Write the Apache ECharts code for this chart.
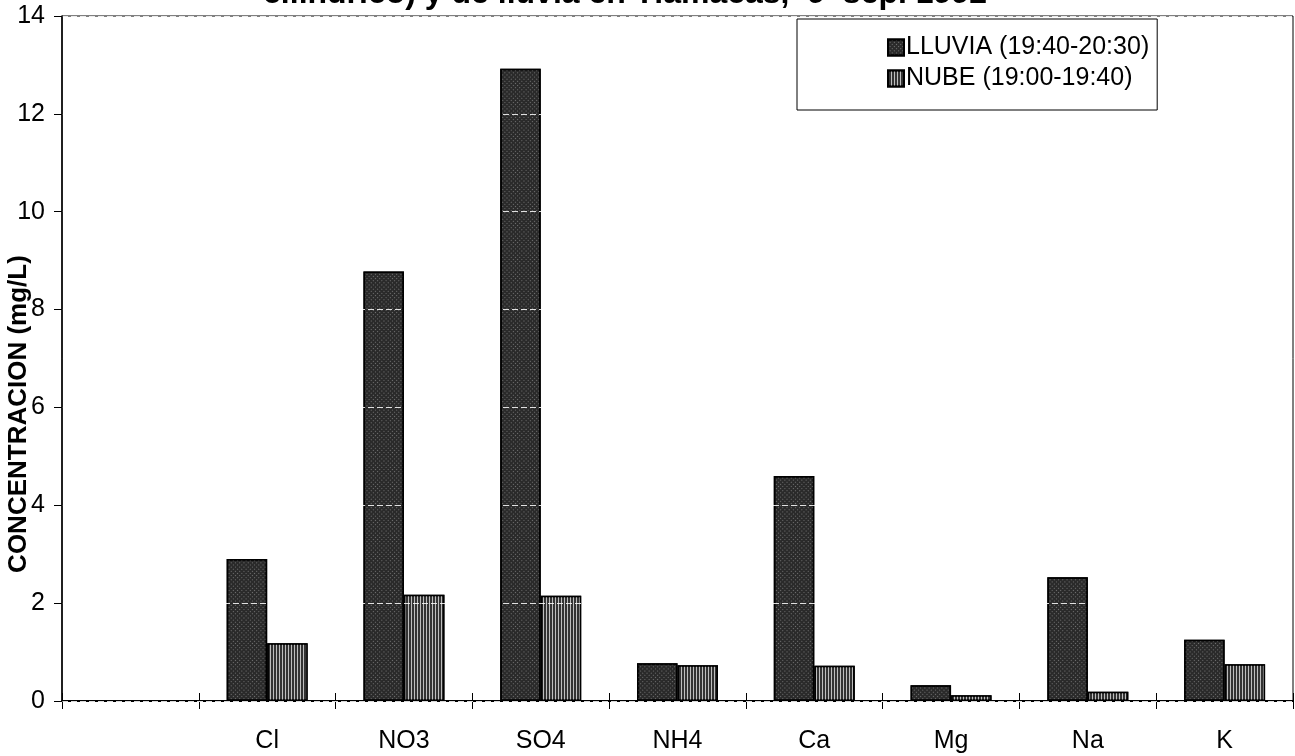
<!DOCTYPE html>
<html>
<head>
<meta charset="utf-8">
<script src="https://cdn.jsdelivr.net/npm/echarts@6/dist/echarts.min.js"></script>
<style>html,body{margin:0;padding:0;background:#fff;}#c{width:1295px;height:756px;}</style>
</head>
<body>
<div id="c"></div>
<script>
const categories = ['', 'Cl', 'NO3', 'SO4', 'NH4', 'Ca', 'Mg', 'Na', 'K'];
const lluvia = [null, 2.9, 8.78, 12.92, 0.77, 4.6, 0.32, 2.53, 1.25];
const nube = [null, 1.18, 2.17, 2.15, 0.73, 0.72, 0.12, 0.19, 0.75];
const yTicks = { min: 0, max: 14, interval: 2 };
const seriesNames = ['LLUVIA (19:40-20:30)', 'NUBE (19:00-19:40)'];
const titleText = 'cilíndrico) y de lluvia en Tlamacas,  9  sep. 1992';
const yName = 'CONCENTRACION (mg/L)';

const FONT = '"Liberation Sans", Arial, sans-serif';
const chart = echarts.init(document.getElementById('c'));
chart.setOption({
  animation: false,
  backgroundColor: '#fff',
  textStyle: { fontFamily: FONT, color: '#000' },
  graphic: [
    {
      type: 'text', x: 625, y: 10,
      style: { text: titleText, font: 'bold 32px ' + FONT, fill: '#000', align: 'center', verticalAlign: 'bottom' }
    },
    {
      type: 'text', x: 19, y: 414, rotation: Math.PI / 2,
      style: { text: yName, font: 'bold 26px ' + FONT, fill: '#000', align: 'center', verticalAlign: 'middle' }
    }
  ],
  legend: {
    orient: 'vertical',
    left: 797, top: 19,
    padding: [16, 8, 19, 90],
    itemGap: 6,
    itemWidth: 16, itemHeight: 16,
    borderColor: '#000', borderWidth: 1,
    backgroundColor: '#fff',
    icon: 'rect',
    textStyle: { fontFamily: FONT, fontSize: 25, color: '#000', padding: [0, 0, 0, -3] },
    data: seriesNames
  },
  grid: { left: 62, right: 2, top: 16, bottom: 55, show: true, borderColor: '#000', borderWidth: 1, containLabel: false },
  xAxis: [
    {
      type: 'category', data: categories, boundaryGap: true,
      axisLine: { lineStyle: { color: '#000', width: 2 } },
      axisTick: { show: true, length: 8, lineStyle: { color: '#000', width: 1 } },
      axisLabel: { fontFamily: FONT, fontSize: 25, color: '#000', margin: 28 }
    },
    {
      type: 'category', data: categories, boundaryGap: true, position: 'bottom',
      axisLine: { show: false },
      axisTick: { show: true, inside: true, length: 8, lineStyle: { color: '#000', width: 1 } },
      axisLabel: { show: false }
    }
  ],
  yAxis: {
    type: 'value', min: yTicks.min, max: yTicks.max, interval: yTicks.interval,
    z: 5,
    axisLine: { show: true, lineStyle: { color: '#000', width: 1.5 } },
    axisTick: { show: true, length: 8, lineStyle: { color: '#000' } },
    axisLabel: { fontFamily: FONT, fontSize: 25, color: '#000', margin: 17 },
    splitLine: { show: true, lineStyle: { color: 'rgba(255,255,255,0.85)', type: [6, 3], width: 1 } }
  },
  series: [
    {
      name: seriesNames[0], type: 'bar', data: lluvia,
      barWidth: '29.6%', barGap: '0%',
      itemStyle: {
        color: '#2a2a2a', borderColor: '#000', borderWidth: 1.5,
        decal: { symbol: 'rect', symbolSize: 1, color: 'rgba(175,175,175,0.55)', dashArrayX: [1, 2], dashArrayY: [1, 2], rotation: Math.PI / 4 }
      }
    },
    {
      name: seriesNames[1], type: 'bar', data: nube,
      barWidth: '29.6%', barGap: '0%',
      itemStyle: {
        color: '#333', borderColor: '#000', borderWidth: 1.5,
        decal: { symbol: 'rect', symbolSize: 1, color: 'rgba(225,225,225,0.8)', dashArrayX: [1, 2], dashArrayY: [4, 0], rotation: 0 }
      }
    }
  ]
});
</script>
</body>
</html>
